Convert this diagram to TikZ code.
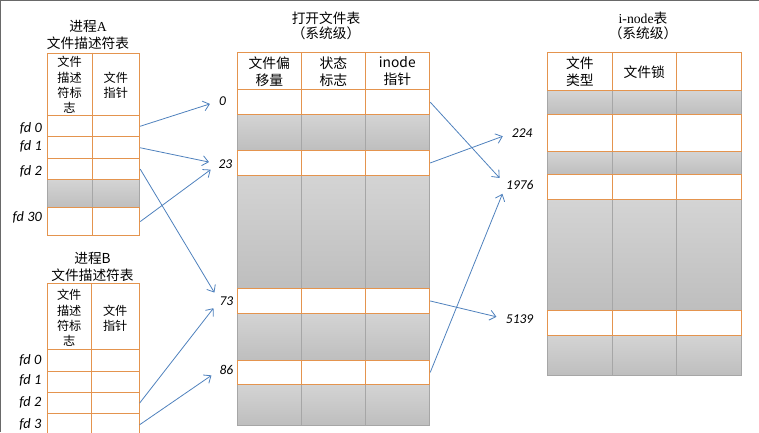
\documentclass[tikz,border=0pt]{standalone}
\usepackage{fontspec}
\setmainfont{Noto Sans CJK SC}
\newfontfamily\numfont{Carlito}
\newfontfamily\serifpart{Liberation Serif}
\usetikzlibrary{arrows.meta}

\definecolor{cellorange}{RGB}{228,148,78}
\definecolor{cellgrayline}{RGB}{166,166,166}
\definecolor{grayhi}{RGB}{212,212,212}
\definecolor{graylo}{RGB}{190,190,190}
\definecolor{ptrblue}{RGB}{79,129,189}
\definecolor{frameline}{RGB}{105,105,105}

\tikzset{
  whitecellrow/.style={draw=cellorange, fill=white, line width=0.9pt, rectangle,
               inner sep=0pt, anchor=north west},
  graycellrow/.style={draw=cellgrayline, top color=grayhi, bottom color=graylo,
               line width=0.8pt, rectangle, inner sep=0pt, anchor=north west},
  whitecelldiv/.style={draw=cellorange, line width=0.9pt},
  graycelldiv/.style={draw=cellgrayline, line width=0.8pt},
  tabletitle/.style={font=\fontsize{13.7}{17}\selectfont, align=center, inner sep=0pt},
  colhead/.style={font=\fontsize{12.2}{15.3}\selectfont, align=center, inner sep=0pt},
  widehead/.style={font=\fontsize{13.8}{17}\selectfont, align=center, inner sep=0pt},
  idxlabel/.style={font=\numfont\itshape\fontsize{13.5}{15}\selectfont, inner sep=0pt},
  fdlabel/.style={font=\numfont\itshape\fontsize{14.3}{15}\selectfont, inner sep=0pt, anchor=east},
  ptr/.style={draw=ptrblue, line width=0.8pt,
              -{Straight Barb[length=6pt,width=10pt]}, shorten >=9.5pt},
}

% one table row: name, kind (white / gray), left x, top y, width, height;
% the column dividers are taken from \coldivs (offsets from the left edge)
\newcommand{\tabrow}[6]{%
  \node[#2cellrow, minimum width=#5pt, minimum height=#6pt] (#1) at (#3,#4) {};
  \foreach \d in \coldivs {%
    \draw[#2celldiv] ([xshift=\d pt]#1.north west) -- ([xshift=\d pt]#1.south west);}%
}

\begin{document}
\begin{tikzpicture}[x=1pt,y=-1pt]
\useasboundingbox (0,0) rectangle (759,432);
\draw[frameline, line width=1.2pt] (0,432) -- (0,0) -- (759,0);

% ---------------- process A: file descriptor table ----------------
\node[tabletitle] (titleA) at (88,34.5) {进程{\serifpart A}\\文件描述符表};
\def\coldivs{45.6}
\tabrow{aGap}{gray}{46.7}{179}{92.6}{28.3}
\tabrow{aHead}{white}{46.7}{52.7}{92.6}{62.6}
\tabrow{aFd0}{white}{46.7}{115.3}{92.6}{21}
\tabrow{aFd1}{white}{46.7}{136.3}{92.6}{22}
\tabrow{aFd2}{white}{46.7}{158.3}{92.6}{20.7}
\tabrow{aFd30}{white}{46.7}{207.3}{92.6}{27.7}
\node[colhead] (aHeadL) at (69.5,85) {文件\\描述\\符标\\志};
\node[colhead] (aHeadR) at (115.8,85.5) {文件\\指针};
\node[fdlabel] (aLbl0) at (42,128.3) {fd 0};
\node[fdlabel] (aLbl1) at (42,146.7) {fd 1};
\node[fdlabel] (aLbl2) at (42,171) {fd 2};
\node[fdlabel] (aLbl30) at (42,217.3) {fd 30};

% ---------------- process B: file descriptor table ----------------
\node[tabletitle] (titleB) at (92.5,266.5) {进程B\\文件描述符表};
\def\coldivs{45}
\tabrow{bHead}{white}{46.7}{283.3}{92}{65.7}
\tabrow{bFd0}{white}{46.7}{349}{92}{22}
\tabrow{bFd1}{white}{46.7}{371}{92}{21}
\tabrow{bFd2}{white}{46.7}{392}{92}{21.3}
\tabrow{bFd3}{white}{46.7}{413.3}{92}{22}
\node[colhead] (bHeadL) at (69.2,318) {文件\\描述\\符标\\志};
\node[colhead] (bHeadR) at (115.2,318) {文件\\指针};
\node[fdlabel] (bLbl0) at (41.5,360) {fd 0};
\node[fdlabel] (bLbl1) at (41.5,380) {fd 1};
\node[fdlabel] (bLbl2) at (41.5,402.7) {fd 2};
\node[fdlabel] (bLbl3) at (41.5,424) {fd 3};

% ---------------- open file table (system wide) ----------------
\node[tabletitle, font=\fontsize{13.7}{15}\selectfont] (titleF) at (326,25.8) {打开文件表\\（系统级）};
\def\coldivs{64,128}
\tabrow{fGap1}{gray}{237.3}{114}{192}{36}
\tabrow{fGap2}{gray}{237.3}{175}{192}{113.3}
\tabrow{fGap3}{gray}{237.3}{312.7}{192}{47.3}
\tabrow{fGap4}{gray}{237.3}{384}{192}{40.7}
\tabrow{fHead}{white}{237.3}{52.3}{192}{37}
\tabrow{fRow0}{white}{237.3}{89.3}{192}{24.7}
\tabrow{fRow23}{white}{237.3}{150}{192}{25}
\tabrow{fRow73}{white}{237.3}{288.3}{192}{24.4}
\tabrow{fRow86}{white}{237.3}{360}{192}{24}
\node[widehead] (fHeadA) at (269.3,71.5) {文件偏\\移量};
\node[widehead] (fHeadB) at (333.3,71.5) {状态\\标志};
\node[widehead] (fHeadC) at (397.3,71.5) {inode\\指针};
\node[idxlabel, anchor=west] (fLbl0) at (219,101) {0};
\node[idxlabel, anchor=west] (fLbl23) at (218.3,164) {23};
\node[idxlabel, anchor=west] (fLbl73) at (219.3,300.7) {73};
\node[idxlabel, anchor=west] (fLbl86) at (219.3,370) {86};

% ---------------- i-node table (system wide) ----------------
\node[tabletitle, font=\fontsize{13.7}{15}\selectfont] (titleI) at (643,25.8) {{\serifpart i-node}表\\（系统级）};
\def\coldivs{65,129}
\tabrow{iGap1}{gray}{547.3}{90}{193.4}{24}
\tabrow{iGap2}{gray}{547.3}{151}{193.4}{23}
\tabrow{iGap3}{gray}{547.3}{199}{193.4}{111}
\tabrow{iGap4}{gray}{547.3}{335}{193.4}{40.3}
\tabrow{iHead}{white}{547.3}{52.3}{193.4}{37.7}
\tabrow{iRow224}{white}{547.3}{114}{193.4}{37}
\tabrow{iRow1976}{white}{547.3}{174}{193.4}{25}
\tabrow{iRow5139}{white}{547.3}{310}{193.4}{25}
\node[widehead] (iHeadA) at (579.8,71.5) {文件\\类型};
\node[widehead] (iHeadB) at (644.3,72) {文件锁};
\node[idxlabel, anchor=west] (iLbl224) at (511.7,133) {224};
\node[idxlabel, anchor=west] (iLbl1976) at (506,185) {1976};
\node[idxlabel, anchor=west] (iLbl5139) at (505.7,319) {5139};

% ---------------- pointers ----------------
\draw[ptr] (aFd0.east) -- (fLbl0.west);
\draw[ptr] (aFd1.east) -- (fLbl23.west);
\draw[ptr] (aFd30.east) -- (fLbl23.west);
\draw[ptr] (aFd2.east) -- (fLbl73.west);
\draw[ptr] (bFd2.east) -- (fLbl73.west);
\draw[ptr] (bFd3.east) -- (fLbl86.west);
\draw[ptr] (fRow0.east) -- (iLbl1976.west);
\draw[ptr] (fRow23.east) -- (iLbl224.west);
\draw[ptr] (fRow73.east) -- (iLbl5139.west);
\draw[ptr] (fRow86.east) -- (iLbl1976.west);
\end{tikzpicture}
\end{document}
